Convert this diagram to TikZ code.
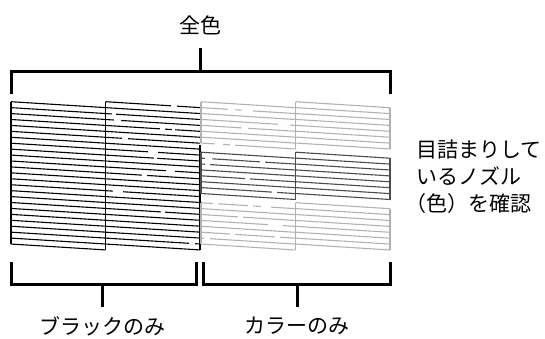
\documentclass[tikz,border=0pt]{standalone}
\usepackage{fontspec}
\newfontfamily\jpfont{Noto Sans CJK JP}
\usetikzlibrary{positioning}

\begin{document}
\begin{tikzpicture}[x=1pt, y=-1pt,
  krow/.style = {draw=black, line width=1.1pt},
  palerow/.style = {draw=black!30, line width=1.1pt},
  darkrow/.style = {draw=black!70, line width=1.1pt},
  gap/.style = {draw=white, line width=2.2pt},
  brk/.style = {draw, line width=3pt, line join=miter},
  lbl/.style = {font=\jpfont\fontsize{21}{27}\selectfont, inner sep=0pt} ]

\useasboundingbox (0,0) rectangle (545,338);

%--- Black blocks ---
\foreach \bx in {11, 105.5} {
  \foreach \i in {0,...,24}
    \draw[krow] (\bx, 101.7+5.93*\i) -- (\bx+94.5, 107.6+5.93*\i);
  \draw[krow] (\bx, 101.7) -- (\bx, 244);
}
\draw[krow] (105.5, 107.6) -- (105.5, 249.9);
\draw[krow] (200, 145) -- (200, 249.9);

% missing nozzles, black
\foreach \i/\a/\b in {0/171/177, 2/112/116, 3/114/121, 4/160/165, 4/172/175,
    6/122/128, 8/148/158, 9/154/157, 11/166/175, 12/142/147, 15/113/123,
    18/161/165, 23/189/195}
  \draw[gap] (\a, {101.7+5.93*\i+5.9*(\a-105.5)/94.5})
          -- (\b, {101.7+5.93*\i+5.9*(\b-105.5)/94.5});

%--- Colour blocks ---
\foreach \bx in {201, 295.5}
  \foreach \gy/\st in {101.7/palerow, 152.2/darkrow, 202.7/palerow} {
    \foreach \i in {0,...,7}
      \draw[\st] (\bx, \gy+5.9*\i) -- (\bx+94.5, \gy+6+5.9*\i);
    \draw[\st] (\bx, \gy) -- (\bx, \gy+41.3);
    \draw[\st] (\bx+94.5, \gy+6) -- (\bx+94.5, \gy+47.3);
  }

% missing nozzles, colour
\foreach \gy/\i/\a/\b in {101.7/1/228/235, 101.7/1/242/253, 101.7/3/278/290,
    101.7/4/242/248, 101.7/7/215/223, 101.7/7/230/235,
    152.2/1/205/212, 152.2/1/260/265, 152.2/2/205/210, 152.2/4/245/250,
    152.2/6/272/277,
    202.7/0/213/218, 202.7/0/248/253, 202.7/0/261/271, 202.7/2/238/243,
    202.7/3/268/283, 202.7/5/230/235, 202.7/5/275/280, 202.7/6/204/210}
  \draw[gap] (\a, {\gy+5.9*\i+6*(\a-201)/94.5})
          -- (\b, {\gy+5.9*\i+6*(\b-201)/94.5});

%--- Bracket: all colours ---
\coordinate (all_l) at (11.5, 94);
\coordinate (all_m) at (200.5, 71.5);
\coordinate (all_r) at (390, 94);
\coordinate (all_s) at (200.5, 48);
\draw[brk] (all_l) |- (all_m) -| (all_r);
\draw[brk] (all_m) -- (all_s);
\node[lbl, above=13pt of all_s] (all_txt) {全色};

%--- Bracket: black only ---
\coordinate (k_l) at (11.5, 262);
\coordinate (k_m) at (102.5, 284);
\coordinate (k_r) at (196.5, 262);
\coordinate (k_s) at (102.5, 307);
\draw[brk] (k_l) |- (k_m) -| (k_r);
\draw[brk] (k_m) -- (k_s);
\node[lbl, below=9.5pt of k_s] (k_txt) {ブラックのみ};

%--- Bracket: colour only ---
\coordinate (c_l) at (203.5, 262);
\coordinate (c_m) at (297, 284);
\coordinate (c_r) at (390, 262);
\coordinate (c_s) at (297, 307);
\draw[brk] (c_l) |- (c_m) -| (c_r);
\draw[brk] (c_m) -- (c_s);
\node[lbl, below=9.5pt of c_s] (c_txt) {カラーのみ};

%--- Check note ---
\node[lbl, align=left, anchor=west] (chk_txt) at (416, 177)
  {目詰まりして\\いるノズル\\\hspace*{-0.5em}（色）を確認};

\end{tikzpicture}
\end{document}
